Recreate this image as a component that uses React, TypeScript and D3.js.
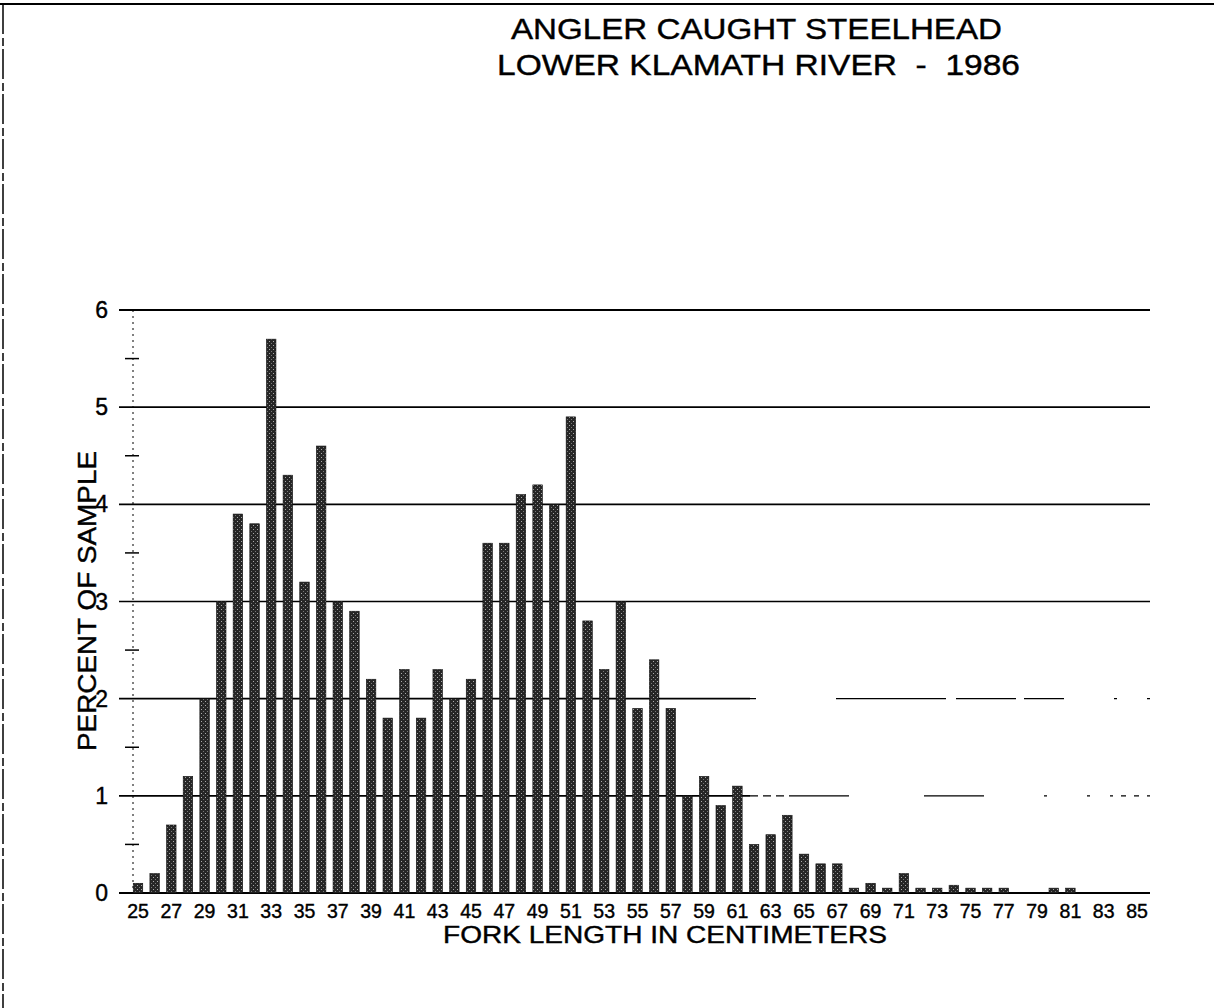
import React from 'react';
import * as d3 from 'd3';

// fork length classes (cm) and percent of sample
const lengths = d3.range(25, 86);
const percents = [
  0.1, 0.2, 0.7, 1.2, 2.0, 3.0, 3.9, 3.8, 5.7, 4.3,
  3.2, 4.6, 3.0, 2.9, 2.2, 1.8, 2.3, 1.8, 2.3, 2.0,
  2.2, 3.6, 3.6, 4.1, 4.2, 4.0, 4.9, 2.8, 2.3, 3.0,
  1.9, 2.4, 1.9, 1.0, 1.2, 0.9, 1.1, 0.5, 0.6, 0.8,
  0.4, 0.3, 0.3, 0.05, 0.1, 0.05, 0.2, 0.05, 0.05, 0.08,
  0.05, 0.05, 0.05, 0, 0, 0.05, 0.05, 0, 0, 0,
  0,
];
const xTickLabels = d3.range(25, 86, 2);
const yTicks = [0, 1, 2, 3, 4, 5, 6];
const yMinor = [0.5, 1.5, 2.5, 3.5, 4.5, 5.5];

const W = 1214;
const H = 1008;
const font = 'Arial, "Liberation Sans", sans-serif';

export default function App() {
  const x = d3.scaleLinear().domain([25, 85]).range([138, 1137]);
  const y = d3.scaleLinear().domain([0, 6]).range([893, 310]);
  const left = 119;
  const right = 1150;
  const barW = 9.5;
  // the scanned grid fades out on the right for the 1 and 2 lines
  const fadeX = 750;
  const ink = { stroke: '#000', strokeWidth: 0.4 };

  return (
    <svg
      width={W}
      height={H}
      style={{ position: 'absolute', left: 0, top: 0, background: '#fff' }}
      fontFamily={font}
    >
      <defs>
        <pattern id="speckle" width="4" height="4" patternUnits="userSpaceOnUse">
          <rect width="4" height="4" fill="#262626" />
          <rect x="1" y="1" width="1" height="1" fill="#aaa" />
          <rect x="3" y="3" width="1" height="1" fill="#777" />
        </pattern>
      </defs>

      {/* page frame from the scan */}
      <line x1={0} x2={W} y1={4} y2={4} stroke="#000" strokeWidth={2} />
      <line x1={3} x2={3} y1={4} y2={H} stroke="#000" strokeWidth={1.5} strokeDasharray="30 4 8 3" />

      <text x={511} y={39} fontSize={29.5} textLength={491} lengthAdjust="spacingAndGlyphs" {...ink}>
        ANGLER CAUGHT STEELHEAD
      </text>
      <text x={497} y={75} fontSize={29.5} textLength={523} lengthAdjust="spacingAndGlyphs" style={{ whiteSpace: 'pre' }} {...ink}>
        LOWER KLAMATH RIVER  -  1986
      </text>

      {/* grid */}
      {yTicks.map(t =>
        t === 1 || t === 2 ? (
          <g key={t}>
            <line x1={left} x2={fadeX} y1={y(t)} y2={y(t)} stroke="#000" strokeWidth={1.6} />
            <line
              x1={fadeX} x2={right} y1={y(t)} y2={y(t)}
              stroke="#000" strokeWidth={1.2}
              strokeDasharray={t === 1 ? '8 5 8 5 8 5 60 75 60 60 3 40 3 20 3' : '6 80 110 10 60 8 40 50 3 30 3'}
            />
            <text x={108} y={y(t) + 8} textAnchor="end" fontSize={23} {...ink}>{t}</text>
          </g>
        ) : (
          <g key={t}>
            <line x1={left} x2={right} y1={y(t)} y2={y(t)} stroke="#000" strokeWidth={t === 0 || t === 6 ? 2 : 1.6} />
            <text x={108} y={y(t) + 8} textAnchor="end" fontSize={23} {...ink}>{t}</text>
          </g>
        )
      )}
      <line x1={133} x2={133} y1={y(6)} y2={y(0)} stroke="#000" strokeWidth={1} strokeDasharray="2 4" />
      {yMinor.map(t => (
        <line key={t} x1={125} x2={139} y1={y(t)} y2={y(t)} stroke="#000" strokeWidth={1.5} />
      ))}

      {/* bars */}
      {lengths.map((len, i) =>
        percents[i] > 0 ? (
          <rect
            key={len}
            x={x(len) - barW / 2}
            y={y(percents[i])}
            width={barW}
            height={y(0) - y(percents[i])}
            fill="url(#speckle)"
            stroke="#111"
            strokeWidth={0.6}
          />
        ) : null
      )}

      {/* x ticks */}
      {xTickLabels.map(v => (
        <text key={v} x={x(v)} y={918} textAnchor="middle" fontSize={19.5} {...ink}>{v}</text>
      ))}
      <text x={443} y={943} fontSize={24.5} textLength={444} lengthAdjust="spacingAndGlyphs" {...ink}>
        FORK LENGTH IN CENTIMETERS
      </text>
      <text
        transform={`translate(96, 601) rotate(-90)`}
        textAnchor="middle"
        fontSize={25.5}
        textLength={300}
        lengthAdjust="spacingAndGlyphs"
        {...ink}
      >
        PERCENT OF SAMPLE
      </text>
    </svg>
  );
}
